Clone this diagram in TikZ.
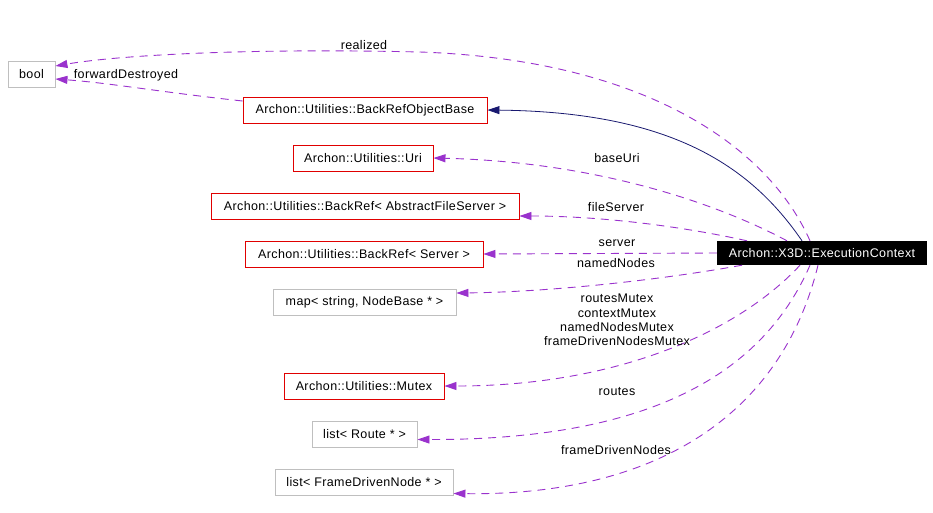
\documentclass[tikz,border=0pt]{standalone}
\usepackage{fontspec}
\setmainfont{Liberation Sans}
\usetikzlibrary{arrows.meta}
\definecolor{edgepurple}{HTML}{9A32CD}
\definecolor{navyedge}{HTML}{191970}
\definecolor{boxred}{HTML}{E00000}
\definecolor{boxgrey}{HTML}{BFBFBF}
\newcommand{\dfont}{\fontsize{12.5}{14.3}\selectfont\addfontfeature{LetterSpace=3}}
\tikzset{
  cls/.style={draw=boxred, line width=0.9pt, minimum height=26pt, inner xsep=6pt, inner ysep=0pt, font=\dfont, text=black, anchor=center},
  ext/.style={cls, draw=boxgrey},
  main/.style={fill=black, text=white, minimum height=24pt, inner xsep=6pt, inner ysep=0pt, font=\dfont},
  use/.style={draw=edgepurple, line width=0.9pt, dash pattern=on 8pt off 6pt, -{Triangle[length=12pt,width=8pt,fill=edgepurple]}},
  inh/.style={draw=navyedge, line width=0.8pt, -{Triangle[length=12pt,width=8pt,fill=navyedge]}},
  lbl/.style={font=\dfont, inner sep=0pt, align=center}
}
\begin{document}
\begin{tikzpicture}[x=1pt,y=-1pt]
\useasboundingbox (0,0) rectangle (933,512);
\fill[white] (0,0) rectangle (933,512);

\node[main, minimum width=210pt] (ec) at (822,253) {Archon::X3D::ExecutionContext};

\node[ext, minimum width=47pt] (bool) at (31.5,74) {bool};
\node[cls, minimum width=244pt] (brob) at (365,110) {Archon::Utilities::BackRefObjectBase};
\node[cls, minimum width=140pt] (uri) at (363,158) {Archon::Utilities::Uri};
\node[cls, minimum width=308pt] (brafs) at (365,206) {Archon::Utilities::BackRef< AbstractFileServer >};
\node[cls, minimum width=238pt] (brs) at (364,254) {Archon::Utilities::BackRef< Server >};
\node[ext, minimum width=183pt] (map) at (364.5,302) {map< string, NodeBase * >};
\node[cls, minimum width=160pt] (mutex) at (364,386) {Archon::Utilities::Mutex};
\node[ext, minimum width=105pt] (lr) at (364.5,434.5) {list< Route * >};
\node[ext, minimum width=178pt] (lf) at (364,482.5) {list< FrameDrivenNode * >};

% inheritance
\draw[inh] ([xshift=-20pt]ec.north) .. controls (750,165) and (670,112) .. (brob.east);

% realized
\draw[use] ([xshift=-12pt]ec.north) .. controls (770,150) and (650,60) .. (420,52)
  .. controls (250,48) and (120,55) .. ([yshift=8pt]bool.east);
\node[lbl] (lrealized) at (364,45) {realized};

% forwardDestroyed
\draw[use] ([yshift=9pt]brob.west) .. controls (160,92) and (110,83) .. ([yshift=-5pt]bool.east);
\node[lbl] (lfd) at (126,75) {forwardDestroyed};

% baseUri
\draw[use] ([xshift=-35pt]ec.north) .. controls (720,205) and (600,162) .. (uri.east);
\node[lbl] (lbase) at (617,158) {baseUri};

% fileServer
\draw[use] ([xshift=-75pt]ec.north) .. controls (680,226) and (600,216) .. ([yshift=-10pt]brafs.east);
\node[lbl] (lfs) at (616,207) {fileServer};

% server
\draw[use] (ec.west) -- (brs.east);
\node[lbl] (lsrv) at (617,243) {server};

% namedNodes
\draw[use] ([xshift=-80pt]ec.south) .. controls (660,280) and (550,292) .. ([yshift=9pt]map.east);
\node[lbl] (lnn) at (616,263) {namedNodes};

% mutex
\draw[use] ([xshift=-22pt]ec.south) .. controls (740,330) and (620,386) .. (mutex.east);
\node[lbl] (lmx) at (617,320) {routesMutex\\contextMutex\\namedNodesMutex\\frameDrivenNodesMutex};

% routes
\draw[use] ([xshift=-12pt]ec.south) .. controls (760,380) and (640,440) .. ([yshift=-5pt]lr.east);
\node[lbl] (lrt) at (617,392) {routes};

% frameDrivenNodes
\draw[use] ([xshift=-4pt]ec.south) .. controls (780,420) and (650,496) .. ([yshift=-11pt]lf.east);
\node[lbl] (lfdn) at (616,450) {frameDrivenNodes};
\end{tikzpicture}
\end{document}
